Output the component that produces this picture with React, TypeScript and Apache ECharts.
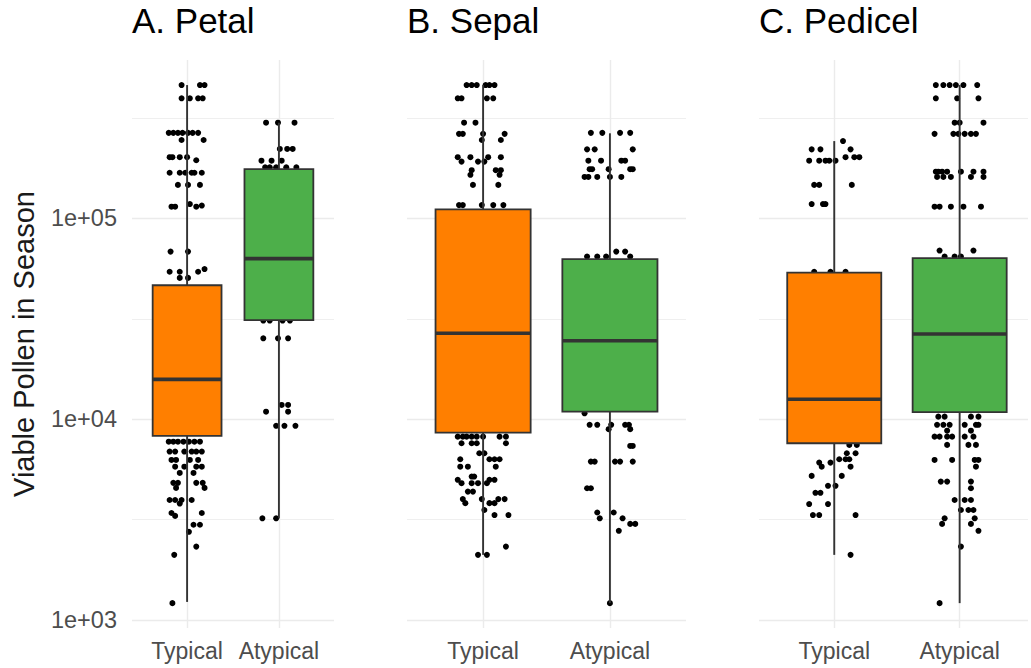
import React, { useEffect, useRef } from 'react';
import * as echarts from 'echarts';

const FONT = '"Liberation Sans", Arial, Helvetica, sans-serif';

const panelTitles = ['A. Petal', 'B. Sepal', 'C. Pedicel'];
const categories = ['Typical', 'Atypical'];
const categoryColors = ['#FF7F00', '#4DAF4A'];
const yAxisTitle = 'Viable Pollen in Season';
const yMajorTicks = [1000, 10000, 100000];
const yMinorTicks = [3162.28, 31622.8, 316228];
const yLimits = [912, 615900];

// box stats per category: [min, q1, median, q3, max]
const petalBoxes = [
  [1230, 8260, 15800, 46500, 462000],
  [3210, 31200, 63100, 176000, 300000],
];
const sepalBoxes = [
  [2110, 8570, 26800, 111000, 462000],
  [1213, 10900, 24600, 62800, 265700],
];
const pedicelBoxes = [
  [2110, 7590, 12580, 53700, 243000],
  [1213, 10840, 26600, 63400, 462000],
];

// jittered points: [horizontal jitter offset, value]
const petalTypicalPts = [
  [-0.06, 462000], [0.14, 462000], [0.19, 462000],
  [-0.06, 397000], [0.03, 397000], [0.12, 397000], [0.17, 397000],
  [-0.2, 267000], [-0.15, 267000], [-0.1, 267000], [-0.05, 267000], [0.01, 267000], [0.06, 267000], [0.12, 267000],
  [-0.06, 246000], [0.18, 246000],
  [-0.19, 202000], [-0.16, 202000], [-0.08, 202000], [0, 202000], [0.1, 195000],
  [-0.19, 169000], [-0.08, 169000], [-0.02, 169000], [0.05, 169000], [0.08, 169000], [0.16, 169000],
  [-0.1, 147000], [0.01, 147000], [0.14, 147000],
  [-0.17, 114500], [-0.13, 114500], [0.03, 118000], [0.1, 114500], [0.16, 116000],
  [-0.18, 68400], [0.01, 68400],
  [-0.19, 54300], [-0.08, 54300], [0.12, 54300], [0.19, 56000],
  [-0.08, 50600], [0.01, 50600],
  [-0.2, 7730], [-0.15, 7730], [-0.1, 7730], [-0.04, 7730], [0.02, 7730], [0.08, 7730], [0.14, 7730],
  [-0.19, 6900], [-0.13, 6900], [-0.03, 6900], [0.05, 6900], [0.1, 6900], [0.16, 6900],
  [-0.17, 6270], [-0.12, 6270], [0.03, 6270], [0.12, 6270],
  [-0.13, 5800], [-0.03, 5800], [0.1, 5800], [0.16, 5800],
  [-0.08, 5400], [0.07, 5400],
  [-0.15, 4820], [-0.1, 4820], [0.1, 4820], [0.17, 4820],
  [-0.12, 4550], [0.19, 4550],
  [-0.19, 3960], [-0.13, 3960], [-0.06, 3960], [0.05, 3960],
  [-0.08, 3800],
  [-0.17, 3410], [0.16, 3410],
  [-0.13, 3300],
  [0.07, 2980], [0.14, 2980],
  [0.02, 2750],
  [0.1, 2320],
  [-0.14, 2110],
  [-0.16, 1213],
];
const petalAtypicalPts = [
  [-0.14, 300000], [-0.01, 300000], [0.17, 300000],
  [0.01, 222000], [0.09, 222000], [0.15, 222000],
  [-0.19, 194000], [-0.08, 194000], [0.03, 194000],
  [-0.15, 180000], [-0.1, 180000], [-0.03, 180000], [0.08, 180000], [0.19, 180000],
  [-0.17, 31000], [-0.1, 31000], [0.04, 31000], [0.12, 31000],
  [-0.17, 25300], [-0.01, 25300], [0.1, 25300],
  [0.03, 11780], [0.1, 11780],
  [-0.14, 10900], [0.1, 10900],
  [-0.03, 9270], [0.06, 9270], [0.18, 9270],
  [-0.18, 3210], [-0.03, 3210],
];
const sepalTypicalPts = [
  [-0.13, 462000], [-0.09, 462000], [-0.05, 462000], [0.02, 462000], [0.05, 462000], [0.09, 462000],
  [-0.2, 397000], [-0.17, 397000], [0.03, 397000], [0.08, 397000],
  [-0.15, 300000], [-0.06, 300000],
  [-0.19, 264000], [-0.16, 264000], [0, 264000], [0.17, 264000],
  [-0.01, 246000], [0.14, 246000],
  [-0.2, 202000], [-0.1, 202000], [0.04, 202000], [0.14, 202000],
  [-0.17, 192000], [-0.04, 192000], [0.01, 192000],
  [-0.09, 174000], [0.1, 174000], [0.14, 174000],
  [-0.1, 165000], [0.13, 165000],
  [-0.08, 147000], [0.12, 147000],
  [-0.19, 116600], [-0.16, 116600], [-0.01, 116600], [0.08, 116600], [0.16, 116600],
  [-0.2, 8190], [-0.16, 8190], [-0.13, 8190], [-0.09, 8190], [-0.05, 8190], [0, 8190], [0.13, 8190], [0.18, 8190],
  [-0.17, 7590], [-0.09, 7590], [-0.05, 7590], [0.18, 7590],
  [-0.03, 6770], [0.01, 6770],
  [-0.18, 6320], [0.05, 6320], [0.09, 6320], [0.13, 6320],
  [-0.18, 5800], [-0.12, 5800], [0.1, 5800],
  [-0.09, 5180], [-0.07, 5180],
  [-0.2, 4990], [0.05, 4990], [0.09, 4990],
  [-0.17, 4800], [-0.09, 4800], [-0.04, 4800], [0.03, 4800],
  [-0.12, 4360], [-0.08, 4360],
  [-0.16, 4000], [-0.01, 4000], [0.12, 4000], [0.17, 4000],
  [-0.14, 3820], [0.05, 3820], [0.09, 3820],
  [0.01, 3530],
  [0.09, 3330], [0.2, 3330],
  [0.18, 2320],
  [-0.04, 2110], [0.03, 2110],
];
const sepalAtypicalPts = [
  [-0.15, 267000], [-0.06, 267000], [0.08, 267000], [0.16, 267000],
  [-0.18, 221000], [-0.12, 221000], [0.18, 221000],
  [-0.17, 194000], [-0.07, 194000], [0.09, 194000], [0.12, 194000],
  [-0.16, 176000], [-0.14, 176000], [-0.01, 176000], [0.16, 176000], [0.18, 176000],
  [-0.2, 161000], [-0.17, 161000], [-0.1, 161000], [0, 161000], [0.09, 161000],
  [0.05, 68400], [0.12, 68400],
  [-0.18, 64600], [-0.1, 64600], [-0.03, 64600], [0.16, 64600],
  [-0.2, 10700],
  [-0.16, 9380], [-0.1, 9380], [0.01, 9380], [0.12, 9380], [0.15, 9380],
  [-0.01, 8920], [0.16, 8920],
  [0.16, 7360], [0.18, 7360],
  [-0.15, 6150], [-0.12, 6150], [0.04, 6150], [0.08, 6150], [0.18, 6150],
  [-0.18, 4530], [-0.15, 4530],
  [-0.1, 3430], [0.03, 3430],
  [-0.08, 3210], [0.1, 3210],
  [0.16, 3010], [0.2, 3010],
  [0.07, 2780],
  [0, 1213],
];
const pedicelTypicalPts = [
  [0.07, 243000],
  [-0.18, 221000], [-0.11, 221000], [0.13, 221000],
  [0.09, 202000], [0.16, 202000], [0.2, 202000],
  [-0.2, 194000], [-0.12, 194000], [-0.07, 194000], [-0.04, 194000], [0.01, 194000],
  [-0.16, 147000], [-0.12, 147000], [0.14, 147000],
  [-0.18, 118000], [-0.09, 118000], [-0.07, 118000],
  [-0.16, 54300], [-0.03, 54300], [0.09, 54300],
  [0.12, 7450], [0.18, 7450],
  [0.1, 6770], [0.17, 6770],
  [0.04, 6320], [0.09, 6320], [0.12, 6320],
  [-0.12, 6080], [-0.03, 6080],
  [-0.1, 5800], [0.13, 5800],
  [-0.18, 5220], [0.06, 5220],
  [-0.05, 4660], [0.01, 4660],
  [-0.15, 4300], [-0.11, 4300],
  [-0.2, 3780], [-0.05, 3780],
  [-0.17, 3330], [-0.12, 3330], [0.17, 3330],
  [0.13, 2110],
];
const pedicelAtypicalPts = [
  [-0.19, 462000], [-0.13, 462000], [-0.08, 462000], [-0.03, 462000], [0.03, 462000], [0.14, 462000],
  [-0.19, 397000], [-0.02, 397000], [0.15, 397000],
  [-0.04, 300000], [0, 300000], [0.19, 300000],
  [-0.2, 264000], [-0.05, 264000], [-0.01, 264000], [0.04, 264000], [0.09, 264000], [0.13, 264000],
  [-0.19, 171000], [-0.17, 171000], [-0.14, 171000], [-0.1, 171000], [0.01, 171000], [0.11, 171000], [0.19, 171000],
  [-0.18, 161000], [-0.13, 161000], [-0.07, 161000], [0.09, 161000], [0.19, 161000],
  [-0.2, 114500], [-0.16, 114500], [-0.07, 114500], [0.03, 114500], [0.17, 114500],
  [-0.16, 69200], [0.11, 69200],
  [-0.12, 64600], [-0.04, 64600], [0.01, 64600],
  [-0.17, 10300], [-0.12, 10300], [0.09, 10300], [0.15, 10300],
  [-0.18, 9380], [-0.13, 9380], [-0.08, 9380], [0.04, 9380], [0.13, 9380], [0.15, 9380],
  [-0.1, 8770], [0.09, 8770],
  [-0.2, 8190], [-0.16, 8190], [-0.1, 8190], [-0.06, 8190], [0.04, 8190], [0.11, 8190],
  [-0.1, 7450], [0.07, 7450], [0.13, 7450],
  [-0.2, 6270], [-0.06, 6270], [0.12, 6270], [0.15, 6270],
  [0.13, 5800],
  [-0.15, 4890], [-0.1, 4890], [0.09, 4890],
  [0.09, 4530],
  [-0.04, 3960], [0.04, 3960], [0.09, 3960],
  [0.01, 3530], [0.07, 3530], [0.11, 3530],
  [-0.12, 3210], [0.12, 3210],
  [-0.14, 3010], [0.09, 3010],
  [0.15, 2780],
  [0.01, 2320],
  [-0.16, 1213],
];

const panelBoxes = [petalBoxes, sepalBoxes, pedicelBoxes];
const panelPoints = [
  [petalTypicalPts, petalAtypicalPts],
  [sepalTypicalPts, sepalAtypicalPts],
  [pedicelTypicalPts, pedicelAtypicalPts],
];

// panel C is cut by the right edge of the picture: its x range ends early
const xRanges = [
  [0.4, 2.6],
  [0.4, 2.6],
  [0.4, 2.545],
];
const grids = [
  { left: 132, top: 60, width: 202, height: 568 },
  { left: 407, top: 60, width: 279, height: 568 },
  { left: 759, top: 60, width: 272, height: 568 },
];

const BOX_HALF = 0.375;
const STROKE = '#333333';
const GRID_COLOR = '#EBEBEB';

function logLabel(v: number): string {
  const e = Math.log10(v);
  if (Math.abs(e - Math.round(e)) > 1e-6) return '';
  return '1e+' + String(Math.round(e)).padStart(2, '0');
}

function catLabel(v: number): string {
  for (let i = 0; i < categories.length; i++) {
    if (Math.abs(v - (i + 1)) < 1e-9) return categories[i];
  }
  return '';
}

function buildOption() {
  const series: any[] = [];
  panelTitles.forEach((_, p) => {
    const gridLines: any[] = [];
    yMajorTicks.forEach((v) => gridLines.push({ yAxis: v, lineStyle: { color: GRID_COLOR, width: 1.4, type: 'solid' } }));
    yMinorTicks.forEach((v) => gridLines.push({ yAxis: v, lineStyle: { color: GRID_COLOR, width: 0.8, type: 'solid' } }));
    categories.forEach((_, c) => gridLines.push({ xAxis: c + 1, lineStyle: { color: GRID_COLOR, width: 1.4, type: 'solid' } }));

    const pts: number[][] = [];
    panelPoints[p].forEach((grp, c) => grp.forEach(([dx, v]) => pts.push([c + 1 + dx, v])));

    series.push({
      type: 'scatter',
      name: panelTitles[p] + ' points',
      xAxisIndex: p,
      yAxisIndex: p,
      z: 2,
      data: pts,
      symbol: 'circle',
      symbolSize: 6,
      itemStyle: { color: '#000000', opacity: 1 },
      silent: true,
      markLine: {
        silent: true,
        z: 1,
        symbol: 'none',
        label: { show: false },
        emphasis: { disabled: true },
        data: gridLines,
      },
    });

    series.push({
      type: 'custom',
      name: panelTitles[p] + ' boxes',
      xAxisIndex: p,
      yAxisIndex: p,
      z: 3,
      silent: true,
      encode: { x: 0, y: [1, 2, 3, 4, 5] },
      data: panelBoxes[p].map((b, c) => [c + 1, ...b]),
      renderItem: (params: any, api: any) => {
        const x = api.value(0);
        const lo = api.value(1);
        const q1 = api.value(2);
        const med = api.value(3);
        const q3 = api.value(4);
        const hi = api.value(5);
        const pLo = api.coord([x, lo]);
        const pHi = api.coord([x, hi]);
        const pQ1 = api.coord([x - BOX_HALF, q1]);
        const pQ3 = api.coord([x + BOX_HALF, q3]);
        const pMedL = api.coord([x - BOX_HALF, med]);
        const pMedR = api.coord([x + BOX_HALF, med]);
        const fill = categoryColors[params.dataIndex];
        return {
          type: 'group',
          children: [
            { type: 'line', shape: { x1: pHi[0], y1: pHi[1], x2: pHi[0], y2: pQ3[1] }, style: { stroke: STROKE, lineWidth: 1.9 } },
            { type: 'line', shape: { x1: pLo[0], y1: pQ1[1], x2: pLo[0], y2: pLo[1] }, style: { stroke: STROKE, lineWidth: 1.9 } },
            {
              type: 'rect',
              shape: { x: pQ1[0], y: pQ3[1], width: pQ3[0] - pQ1[0], height: pQ1[1] - pQ3[1] },
              style: { fill, stroke: STROKE, lineWidth: 1.8 },
            },
            { type: 'line', shape: { x1: pMedL[0], y1: pMedL[1], x2: pMedR[0], y2: pMedR[1] }, style: { stroke: STROKE, lineWidth: 3.6 } },
          ],
        };
      },
    });
  });

  return {
    animation: false,
    backgroundColor: '#FFFFFF',
    textStyle: { fontFamily: FONT },
    title: panelTitles.map((t, i) => ({
      text: t,
      left: grids[i].left,
      top: 3,
      padding: 0,
      textStyle: { fontSize: 35, fontWeight: 'normal', color: '#000000', fontFamily: FONT },
    })),
    grid: grids.map((g) => ({ ...g, containLabel: false })),
    xAxis: grids.map((_, i) => ({
      type: 'value',
      gridIndex: i,
      min: xRanges[i][0],
      max: xRanges[i][1],
      axisLine: { show: false },
      axisTick: { show: false },
      splitLine: { show: false },
      axisLabel: { formatter: catLabel, color: '#4D4D4D', fontSize: 23, margin: 11, fontFamily: FONT },
    })),
    yAxis: grids.map((_, i) => ({
      type: 'log',
      logBase: 10,
      gridIndex: i,
      min: yLimits[0],
      max: yLimits[1],
      axisLine: { show: false },
      axisTick: { show: false },
      splitLine: { show: false },
      axisLabel: { show: i === 0, formatter: logLabel, color: '#4D4D4D', fontSize: 23.5, margin: 15, fontFamily: FONT },
      name: i === 0 ? yAxisTitle : '',
      nameLocation: 'middle',
      nameRotate: 90,
      nameGap: 94,
      nameTextStyle: { fontSize: 29, color: '#1A1A1A', fontFamily: FONT },
    })),
    series,
  };
}

export default function App() {
  const ref = useRef<HTMLDivElement>(null);
  useEffect(() => {
    if (!ref.current) return;
    const chart = echarts.init(ref.current, undefined, { renderer: 'svg' });
    chart.setOption(buildOption() as any);
    return () => chart.dispose();
  }, []);
  return (
    <div
      ref={ref}
      style={{ position: 'fixed', left: 0, top: 0, width: 1031, height: 668, background: '#FFFFFF' }}
    />
  );
}
